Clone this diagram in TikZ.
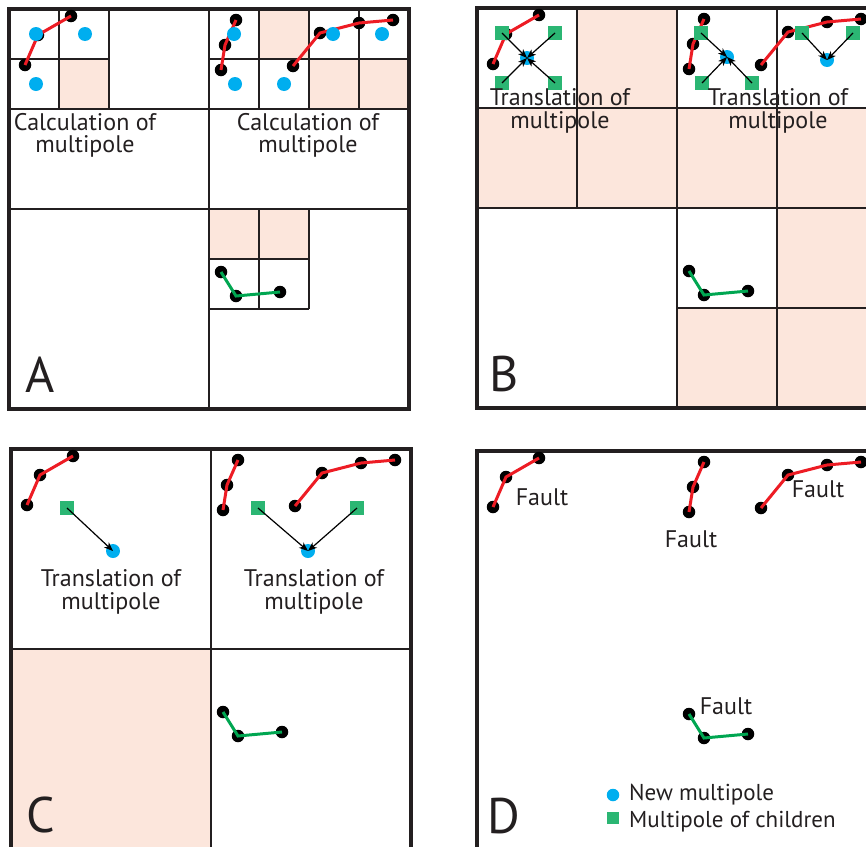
\documentclass[tikz,border=0pt]{standalone}
\usepackage{fontspec}
\setmainfont{PT Sans}
\usetikzlibrary{arrows.meta}

\definecolor{cellpink}{RGB}{252,230,220}
\definecolor{inkgray}{RGB}{35,31,32}
\definecolor{faultred}{RGB}{237,28,36}
\definecolor{faultgreen}{RGB}{0,166,81}
\definecolor{poleblue}{RGB}{0,174,239}
\definecolor{childgreen}{RGB}{43,182,115}

\tikzset{
  cell/.style={fill=cellpink},
  grid line/.style={line width=1.5pt, draw=inkgray},
  frame/.style={line width=3.5pt, draw=inkgray},
  vtx/.style={circle, fill=black, minimum size=12.5pt, inner sep=0pt},
  redfault/.style={line width=3pt, draw=faultred},
  greenfault/.style={line width=3pt, draw=faultgreen},
  newpole/.style={circle, fill=poleblue, minimum size=14pt, inner sep=0pt},
  childpole/.style={rectangle, fill=childgreen, minimum size=13.5pt, inner sep=0pt},
  arr/.style={line width=1.2pt, draw=black, -{Stealth[length=9pt,width=7pt,inset=2.5pt]}},
  caption/.style={font=\fontsize{24}{22}\selectfont, align=center, inner sep=0pt, text=inkgray, anchor=north},
  caption wide/.style={caption, font=\fontsize{24}{23}\selectfont},
  faultlabel/.style={font=\fontsize{24}{24}\selectfont, inner sep=0pt, text=inkgray, anchor=base},
  legendtext/.style={font=\fontsize{23}{23}\selectfont, inner sep=0pt, text=inkgray, anchor=base west},
  legendpole/.style={newpole, minimum size=12.5pt},
  legendchild/.style={childpole, minimum size=12pt},
  letter/.style={font=\fontsize{50}{50}\selectfont, inner sep=0pt, text=inkgray, anchor=base west}
}

% The three red faults and the green fault, in panel coordinates
\newcommand\drawfaults[1]{%
  \node[vtx] (#1-a1) at (16,56) {};
  \node[vtx] (#1-a2) at (29,26) {};
  \node[vtx] (#1-a3) at (62,7) {};
  \draw[redfault] (#1-a1.center) -- (#1-a2.center) -- (#1-a3.center);
  \node[vtx] (#1-b1) at (227,11) {};
  \node[vtx] (#1-b2) at (216,36) {};
  \node[vtx] (#1-b3) at (212,61) {};
  \draw[redfault] (#1-b1.center) -- (#1-b2.center) -- (#1-b3.center);
  \node[vtx] (#1-c1) at (284,57) {};
  \node[vtx] (#1-c2) at (311,24) {};
  \node[vtx] (#1-c3) at (350,14) {};
  \node[vtx] (#1-c4) at (384,11) {};
  \draw[redfault] (#1-c1.center) -- (#1-c2.center) -- (#1-c3.center) -- (#1-c4.center);
  \node[vtx] (#1-g1) at (212,263) {};
  \node[vtx] (#1-g2) at (227,287) {};
  \node[vtx] (#1-g3) at (271,283) {};
  \draw[greenfault] (#1-g1.center) -- (#1-g2.center) -- (#1-g3.center);
}

\begin{document}
\begin{tikzpicture}[x=1pt, y=-1pt]
\useasboundingbox (0,0) rectangle (866,846);
\clip (0,0) rectangle (866,846);

% ---------- A: calculation of multipoles ----------
\begin{scope}[shift={(9,9)}]
  \fill[cell] (50,50) rectangle (100,100);
  \fill[cell] (250,0) rectangle (300,50);
  \fill[cell] (300,50) rectangle (400,100);
  \fill[cell] (200,200) rectangle (300,250);
  \draw[grid line]
    (200,0) -- (200,400)  (0,200) -- (400,200)
    (0,100) -- (400,100)
    (100,0) -- (100,100)  (300,0) -- (300,100)
    (50,0) -- (50,100)    (0,50) -- (100,50)
    (250,0) -- (250,100)  (350,0) -- (350,100)  (200,50) -- (400,50)
    (250,200) -- (250,300) (300,200) -- (300,300)
    (200,250) -- (300,250) (200,300) -- (300,300);
  \draw[frame] (0,0) rectangle (400,400);
  \drawfaults{A}
  \node[newpole] (A-p1) at (27,25) {};
  \node[newpole] (A-p2) at (76,25) {};
  \node[newpole] (A-p3) at (27,75) {};
  \node[newpole] (A-p4) at (225,25) {};
  \node[newpole] (A-p5) at (226,75) {};
  \node[newpole] (A-p6) at (275,75) {};
  \node[newpole] (A-p7) at (324,25) {};
  \node[newpole] (A-p8) at (373,25) {};
  \node[caption] (A-t1) at (76,104) {Calculation of\\multipole};
  \node[caption] (A-t2) at (299,104) {Calculation of\\multipole};
  \node[letter] (A-lab) at (16,383) {A};
\end{scope}

% ---------- B: translation to the parent cells ----------
\begin{scope}[shift={(477,8)}]
  \fill[cell] (100,0) rectangle (200,100);
  \fill[cell] (0,100) rectangle (400,200);
  \fill[cell] (300,200) rectangle (400,300);
  \fill[cell] (200,300) rectangle (400,400);
  \draw[grid line]
    (100,0) -- (100,200)  (200,0) -- (200,400)  (300,0) -- (300,400)
    (0,100) -- (400,100)  (0,200) -- (400,200)  (200,300) -- (400,300);
  \draw[frame] (0,0) rectangle (400,400);
  \drawfaults{B}
  \node[childpole] (B-s1) at (25,25) {};
  \node[childpole] (B-s2) at (78,25) {};
  \node[childpole] (B-s3) at (25,75) {};
  \node[childpole] (B-s4) at (78,75) {};
  \node[newpole] (B-p1) at (50,50) {};
  \node[childpole] (B-s5) at (224,25) {};
  \node[childpole] (B-s6) at (225,75) {};
  \node[childpole] (B-s7) at (275,75) {};
  \node[newpole] (B-p2) at (250,49) {};
  \node[childpole] (B-s8) at (325,25) {};
  \node[childpole] (B-s9) at (376,25) {};
  \node[newpole] (B-p3) at (350,52) {};
  \foreach \s in {1,2,3,4} \draw[arr] (B-s\s.center) -- (B-p1.center);
  \foreach \s in {5,6,7} \draw[arr] (B-s\s.center) -- (B-p2.center);
  \foreach \s in {8,9} \draw[arr] (B-s\s.center) -- (B-p3.center);
  \node[caption wide] (B-t1) at (83,80) {Translation of\\multipole};
  \node[caption wide] (B-t2) at (301,80) {Translation of\\multipole};
  \node[letter] (B-lab) at (12,383) {B};
\end{scope}

% ---------- C: translation to the top cells ----------
\begin{scope}[shift={(11,449)}]
  \fill[cell] (0,200) rectangle (200,400);
  \draw[grid line] (200,0) -- (200,400)  (0,200) -- (400,200);
  \draw[frame] (0,0) rectangle (400,400);
  \drawfaults{C}
  \node[childpole] (C-s1) at (56,59) {};
  \node[newpole] (C-p1) at (102,102) {};
  \node[childpole] (C-s2) at (247,59) {};
  \node[childpole] (C-s3) at (346,59) {};
  \node[newpole] (C-p2) at (297,102) {};
  \draw[arr] (C-s1.center) -- (C-p1.center);
  \draw[arr] (C-s2.center) -- (C-p2.center);
  \draw[arr] (C-s3.center) -- (C-p2.center);
  \node[caption wide] (C-t1) at (100,120) {Translation of\\multipole};
  \node[caption wide] (C-t2) at (303,120) {Translation of\\multipole};
  \node[letter] (C-lab) at (15,383) {C};
\end{scope}

% ---------- D: the faults and the legend ----------
\begin{scope}[shift={(477,451)}]
  \draw[frame] (0,0) rectangle (400,400);
  \drawfaults{D}
  \node[faultlabel] (D-f1) at (65,54) {Fault};
  \node[faultlabel] (D-f2) at (214,96) {Fault};
  \node[faultlabel] (D-f3) at (341,46) {Fault};
  \node[faultlabel] (D-f4) at (249,263) {Fault};
  \node[legendpole] (D-kp) at (136,344) {};
  \node[legendtext] (D-kpt) at (152,349) {New multipole};
  \node[legendchild] (D-ks) at (136,367) {};
  \node[legendtext] (D-kst) at (152,376) {Multipole of children};
  \node[letter] (D-lab) at (10,382) {D};
\end{scope}
\end{tikzpicture}
\end{document}
